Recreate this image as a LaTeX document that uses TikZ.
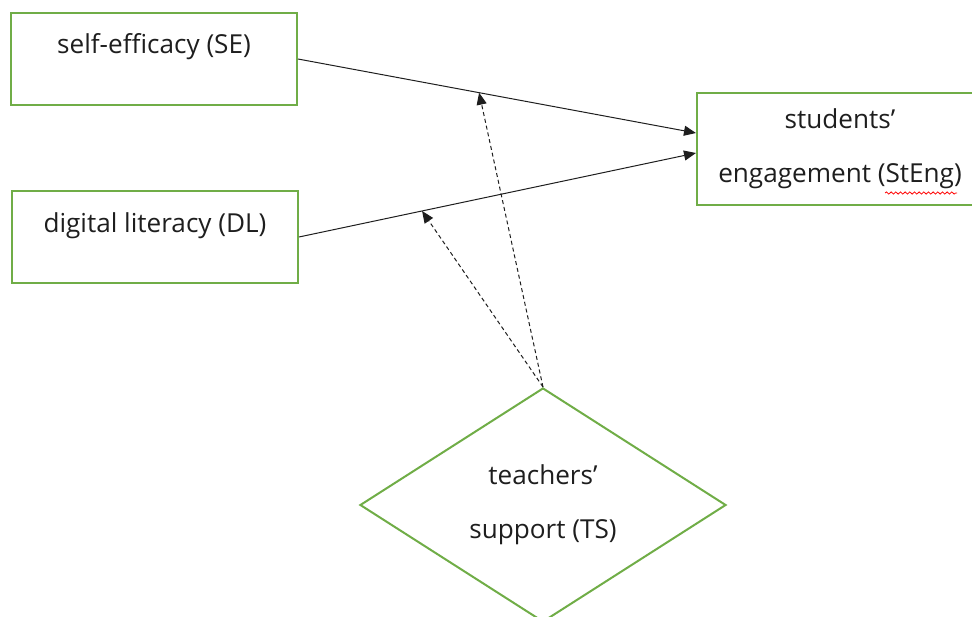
\documentclass[tikz,border=0pt]{standalone}
\usepackage{fontspec}
\setmainfont{Open Sans}
\usetikzlibrary{shapes.geometric,arrows.meta,decorations.pathmorphing}
\definecolor{boxgreen}{RGB}{112,173,71}
\definecolor{inkgray}{RGB}{30,30,30}

\begin{document}
\begin{tikzpicture}[x=0.75pt,y=-0.75pt,
  every node/.style={font=\fontsize{19.6pt}{40.5pt}\selectfont, text=inkgray},
  varbox/.style={draw=boxgreen, line width=1.5pt, minimum width=214.5pt, minimum height=69pt, text height=14.5pt, text depth=22pt},
  outbox/.style={draw=boxgreen, line width=1.5pt, minimum width=214.5pt, minimum height=84pt, align=center},
  modbox/.style={diamond, draw=boxgreen, line width=1.5pt, aspect=1.56, minimum width=274.5pt, minimum height=175.5pt, inner sep=0pt, align=center},
  patharrow/.style={draw=inkgray, line width=0.75pt, -{Triangle[length=9pt,width=7.5pt]}},
  modarrow/.style={patharrow, dash pattern=on 3pt off 2.2pt},
  spellmark/.style={draw=red, line width=0.6pt, decorate, decoration={snake, segment length=3.5pt, amplitude=0.8pt}}]
\clip (0,0) rectangle (972,617);

% predictors
\node[varbox] (se) at (154,59) {self-efficacy (SE)};
\node[varbox] (dl) at (155,237) {digital literacy (DL)};

% outcome
\node[outbox] (steng) at (840,149) {students’\\engagement (StEng)};
\draw[spellmark] ([xshift=33.75pt,yshift=-33pt]steng.center) -- ++(72,0);

% moderator
\node[modbox] (ts) at (543,505) {teachers’\\support (TS)};

% arrows
\draw[patharrow] (se.east) -- coordinate[pos=0.455] (se-mid) ([yshift=12pt]steng.west);
\draw[patharrow] (dl.east) -- coordinate[pos=0.31] (dl-mid) ([yshift=-3pt]steng.west);
\draw[modarrow] (ts.north) -- (se-mid);
\draw[modarrow] (ts.north) -- (dl-mid);
\end{tikzpicture}
\end{document}
